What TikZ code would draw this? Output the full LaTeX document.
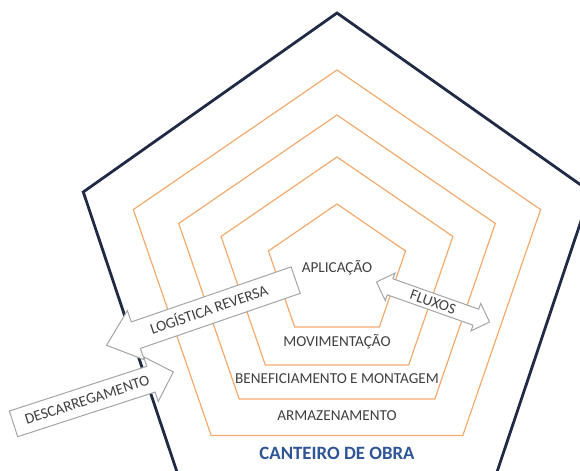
\documentclass[tikz,border=0pt]{standalone}
\usepackage{fontspec}
\setmainfont{Carlito}
\usetikzlibrary{shapes.arrows}

\definecolor{navyline}{RGB}{32,42,68}
\definecolor{ringorange}{RGB}{242,170,110}
\definecolor{labelgray}{RGB}{64,64,64}
\definecolor{siteblue}{RGB}{47,85,151}
\definecolor{arrowgray}{RGB}{165,165,165}

\begin{document}
\begin{tikzpicture}[x=0.5pt, y=0.5pt,
    sitewall/.style={draw=navyline, line width=1.4pt, line join=miter},
    ring/.style={draw=ringorange, line width=0.6pt, line join=miter},
    stage/.style={text=labelgray, font=\fontsize{7.6}{9}\selectfont},
    blockarrow/.style={draw=arrowgray, fill=white, line width=0.5pt,
      text=labelgray, font=\fontsize{7.6}{9}\selectfont,
      text height=6pt, text depth=1pt, inner xsep=2pt}]

    % Frame of the picture (pixel units, origin bottom left)
    \useasboundingbox (0,0) rectangle (580,471);
    \clip (0,0) rectangle (580,471);

    % Outer boundary: the construction site
    \draw[sitewall] (337,{199+259})
      \foreach \a in {162,234,306,18} {-- ({337+1.03*259*cos(\a)},{199+259*sin(\a)})} -- cycle;

    % Nested stages, same centre
    \foreach \r in {202,157,115,68}
      \draw[ring] (337,{199+\r})
        \foreach \a in {162,234,306,18} {-- ({337+1.06*\r*cos(\a)},{199+\r*sin(\a)})} -- cycle;

    % Stage labels, inside out
    \node[stage] (aplicacao) at (337,203) {APLICAÇÃO};
    \node[stage] (moviment) at (337,129) {MOVIMENTAÇÃO};
    \node[stage] (benefic) at (337,92) {BENEFICIAMENTO E MONTAGEM};
    \node[stage] (armazen) at (337,55) {ARMAZENAMENTO};
    \node[text=siteblue, font=\bfseries\fontsize{9.4}{11}\selectfont] (canteiro) at (337,18) {CANTEIRO DE OBRA};

    % Reverse logistics, leaving the site
    \node[blockarrow, single arrow, shape border rotate=180, rotate=19,
      minimum height=100pt, inner ysep=3.25pt,
      single arrow head extend=6pt, single arrow tip angle=80] (reversa) at (209,161) {LOGÍSTICA REVERSA};
    % Unloading, entering the site
    \node[blockarrow, single arrow, rotate=18,
      minimum height=84pt, inner ysep=3pt,
      single arrow head extend=5pt] (descarga) at (87,71) {DESCARREGAMENTO};
    % Flows between stages
    \node[blockarrow, double arrow, rotate=-19.5,
      minimum height=60pt, inner ysep=0.5pt,
      double arrow head extend=3pt] (fluxos) at (433,169) {FLUXOS};

  \end{tikzpicture}
\end{document}
